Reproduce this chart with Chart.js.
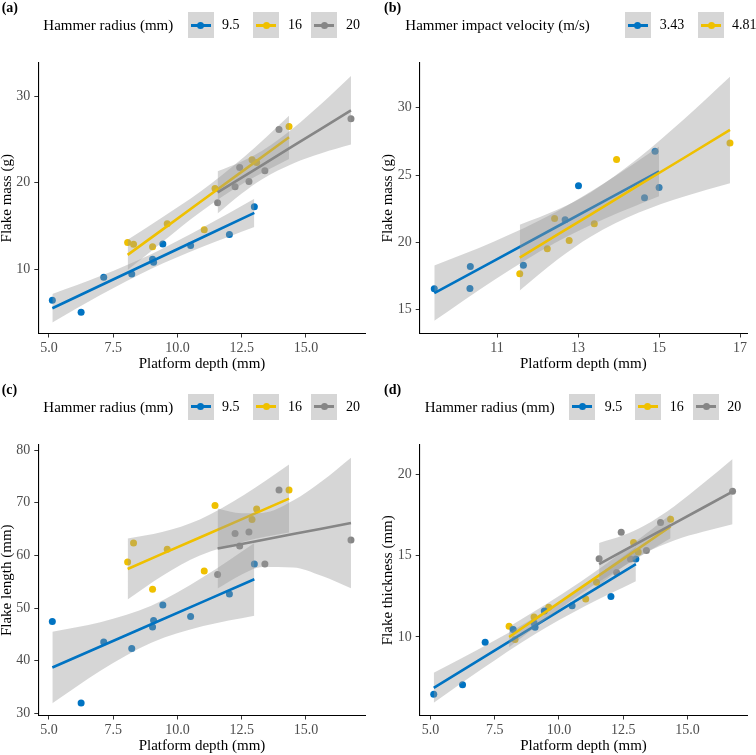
<!DOCTYPE html>
<html>
<head>
<meta charset="utf-8">
<script src="https://cdn.jsdelivr.net/npm/chart.js@4"></script>
<style>
body{margin:0;width:756px;height:755px;overflow:hidden;background:#fff;font-family:"Liberation Serif","Times New Roman",serif;color:#000;}
.panel{position:absolute;width:378px;height:374px;}
.panel canvas{position:absolute;left:0;top:0;}
.tag{position:absolute;top:0;font-weight:bold;font-size:14px;line-height:16px;}
.leg{position:absolute;top:12.3px;height:26px;line-height:26px;white-space:nowrap;}
.leg.title{font-size:15px;}
.leg.lab{font-size:14px;}
.key{position:absolute;top:12.3px;width:26px;height:26px;background:#d6d6d6;}
.key i{position:absolute;left:3px;right:3px;top:11.7px;height:2.6px;}
.key b{position:absolute;left:9.5px;top:9.5px;width:7px;height:7px;border-radius:50%;}
</style>
</head>
<body>
<div class="panel" id="pa" style="left:0;top:0"><canvas id="ca" width="378" height="374"></canvas></div>
<div class="panel" id="pb" style="left:378px;top:0"><canvas id="cb" width="378" height="374"></canvas></div>
<div class="panel" id="pc" style="left:0;top:381.5px"><canvas id="cc" width="378" height="374"></canvas></div>
<div class="panel" id="pd" style="left:378px;top:381.5px"><canvas id="cd" width="378" height="374"></canvas></div>
<script>
// legend labels
const radiusLabels = ["9.5", "16", "20"];
const velocityLabels = ["3.43", "4.81"];

// platform depth (mm) by hammer radius
const depth95 = [5.13, 6.25, 7.13, 8.22, 9.03, 9.07, 9.43, 10.51, 12.02, 12.99];
const depth16 = [8.06, 8.29, 9.03, 9.60, 11.04, 11.46, 12.90, 13.08, 14.34];
const depth20 = [11.56, 12.24, 12.42, 12.78, 13.40, 13.95, 16.75];

// (a) flake mass (g)
const mass95 = [6.46, 5.07, 9.11, 9.49, 11.19, 10.84, 12.95, 12.77, 14.04, 17.22];
const mass16 = [13.12, 12.92, 12.61, 15.26, 14.57, 19.35, 22.65, 22.35, 26.5];
const mass20 = [17.68, 19.53, 21.77, 20.15, 21.38, 26.15, 27.38];

// (b) hammer impact velocity 3.43 m/s (4.81 m/s = the 20 mm flakes)
const depth343 = [9.45, 10.34, 10.33, 11.65, 12.68, 13.01, 14.64, 14.90, 15.00];
const mass343 = [16.56, 18.22, 16.58, 18.31, 21.68, 24.20, 23.31, 26.76, 24.08];

// (c) flake length (mm)
const length95 = [47.45, 32.01, 43.58, 42.33, 46.43, 47.64, 50.6, 48.4, 52.69, 58.38];
const length16 = [58.76, 62.36, 53.58, 61.16, 57.05, 69.45, 66.8, 68.81, 72.41];
const length20 = [56.37, 64.14, 61.79, 64.45, 58.38, 72.41, 62.93];

// (d) flake thickness (mm)
const thick95 = [6.49, 7.07, 9.68, 10.46, 10.85, 10.59, 11.6, 11.91, 12.49, 14.78];
const thick16 = [10.65, 9.84, 11.22, 11.82, 12.33, 13.35, 15.8, 15.22, 17.23];
const thick20 = [14.8, 13.96, 16.43, 14.78, 15.3, 17.02, 18.94];

// fitted lines and 95% bands, read at these depths
const fitX95 = [5.13, 7.0, 8.98, 11.0, 12.99];
const fitX16 = [8.06, 9.4, 10.87, 12.6, 14.34];
const fitX20 = [11.56, 12.5, 13.31, 14.5, 15.6, 16.75];
const fitX343 = [9.45, 10.9, 12.44, 13.7, 15.0];

const massFit95 = [5.53, 8.15, 10.92, 13.75, 16.53];
const massLo95 = [3.88, 7.05, 10.08, 12.64, 14.91];
const massHi95 = [7.18, 9.25, 11.76, 14.86, 18.15];
const massFit16 = [11.68, 14.57, 17.75, 21.49, 25.24];
const massLo16 = [9.93, 13.15, 16.58, 19.99, 22.74];
const massHi16 = [13.43, 15.99, 18.92, 22.99, 27.74];
const massFit20 = [18.88, 20.6, 22.07, 24.25, 26.25, 28.35];
const massLo20 = [16.44, 18.75, 20.43, 22.22, 23.4, 24.4];
const massHi20 = [21.32, 22.45, 23.71, 26.28, 29.1, 32.3];
const massFit343 = [16.24, 18.6, 21.11, 23.16, 25.28];
const massLo343 = [14.19, 17.16, 19.97, 21.81, 23.43];
const massHi343 = [18.29, 20.04, 22.25, 24.51, 27.13];

const lengthFit95 = [38.73, 42.71, 46.93, 51.23, 55.47];
const lengthLo95 = [31.93, 38.11, 43.43, 46.58, 48.57];
const lengthHi95 = [45.53, 47.31, 50.43, 55.88, 62.37];
const lengthFit16 = [57.43, 60.28, 63.4, 67.08, 70.78];
const lengthLo16 = [51.63, 56.11, 59.97, 62.66, 64.33];
const lengthHi16 = [63.23, 64.45, 66.83, 71.5, 77.23];
const lengthFit20 = [61.3, 62.18, 62.93, 64.05, 65.07, 66.15];
const lengthLo20 = [53.7, 56.36, 57.79, 57.69, 56.12, 53.75];
const lengthHi20 = [68.9, 68.0, 68.07, 70.41, 74.02, 78.55];

const thickFit95 = [6.88, 8.69, 10.6, 12.55, 14.47];
const thickLo95 = [5.96, 8.03, 10.09, 11.88, 13.42];
const thickHi95 = [7.8, 9.35, 11.11, 13.22, 15.52];
const thickFit16 = [10.0, 11.45, 13.04, 14.9, 16.78];
const thickLo16 = [9.37, 10.98, 12.66, 14.41, 16.05];
const thickHi16 = [10.63, 11.92, 13.42, 15.39, 17.51];
const thickFit20 = [14.47, 15.28, 15.97, 16.99, 17.93, 18.92];
const thickLo20 = [13.17, 14.32, 15.12, 15.94, 16.45, 16.92];
const thickHi20 = [15.77, 16.24, 16.82, 18.04, 19.41, 20.92];

// tick labels
const depthTicks = [5.0, 7.5, 10.0, 12.5, 15.0];
const depthTicksB = [11, 13, 15, 17];
const massTicks = [10, 20, 30];
const massTicksB = [15, 20, 25, 30];
const lengthTicks = [30, 40, 50, 60, 70, 80];
const thickTicks = [10, 15, 20];

const blue = "#0073C2", yellow = "#EFC000", grey = "#868686";
const ribbonFill = "rgba(153,153,153,0.4)";
const serif = "'Liberation Serif', 'Times New Roman', serif";

const pts = (xs, ys) => xs.map((x, i) => ({x: x, y: ys[i]}));

function buildSets(groups) {
    const sets = [];
    groups.forEach((g, i) => {
        sets.push({data: pts(g.x, g.y), backgroundColor: g.color, borderWidth: 0, pointRadius: 3.5, order: 100});
        sets.push({data: pts(g.fx, g.lo), showLine: true, borderColor: "rgba(0,0,0,0)", borderWidth: 0,
            pointRadius: 0, cubicInterpolationMode: "monotone", fill: false, order: 50 - 3 * i});
        sets.push({data: pts(g.fx, g.hi), showLine: true, borderColor: "rgba(0,0,0,0)", borderWidth: 0,
            pointRadius: 0, cubicInterpolationMode: "monotone", fill: "-1", backgroundColor: ribbonFill, order: 50 - 3 * i});
        sets.push({data: pts(g.fx, g.fit), showLine: true, borderColor: g.color, borderWidth: 2.6,
            pointRadius: 0, order: 49 - 3 * i});
    });
    return sets;
}

function makeChart(id, p) {
    new Chart(document.getElementById(id), {
        type: "scatter",
        data: {datasets: buildSets(p.groups)},
        options: {
            responsive: false,
            animation: false,
            devicePixelRatio: 1,
            layout: {padding: {top: 63, right: p.right, bottom: 0, left: 0}},
            plugins: {legend: {display: false}, tooltip: {enabled: false}},
            scales: {
                x: {
                    type: "linear", min: p.xMin, max: p.xMax,
                    afterBuildTicks: s => { s.ticks = p.xTicks.map(v => ({value: v})); },
                    afterFit: s => { s.height = 374 - 333.5; },
                    border: {display: true, color: "#000", width: 1.1},
                    grid: {drawOnChartArea: false, drawTicks: true, tickLength: 4, color: "#333"},
                    ticks: {autoSkip: false, maxRotation: 0, padding: 2, color: "#4d4d4d",
                        font: {family: serif, size: 14}, callback: v => p.xFmt(v)},
                    title: {display: true, text: "Platform depth (mm)", color: "#000",
                        font: {family: serif, size: 15, lineHeight: 1}, padding: {top: 0, bottom: 2.5}}
                },
                y: {
                    type: "linear", min: p.yMin, max: p.yMax,
                    afterBuildTicks: s => { s.ticks = p.yTicks.map(v => ({value: v})); },
                    afterFit: s => { s.width = p.yWidth; },
                    border: {display: true, color: "#000", width: 1.1},
                    grid: {drawOnChartArea: false, drawTicks: true, tickLength: 4, color: "#333"},
                    ticks: {autoSkip: false, padding: 4, color: "#4d4d4d",
                        font: {family: serif, size: 14}, callback: v => String(v)},
                    title: {display: true, text: p.yTitle, color: "#000",
                        font: {family: serif, size: 15, lineHeight: 1}, padding: {top: p.yTitlePad, bottom: 0}}
                }
            }
        }
    });
}

function makeLegend(panelId, tag, tagLeft, title, titleLeft, labels, colors, keyLefts, labLefts) {
    const el = document.getElementById(panelId);
    let html = `<div class="tag" style="left:${tagLeft}px">${tag}</div>`;
    html += `<div class="leg title" style="left:${titleLeft}px">${title}</div>`;
    labels.forEach((lab, i) => {
        html += `<div class="key" style="left:${keyLefts[i]}px"><i style="background:${colors[i]}"></i><b style="background:${colors[i]}"></b></div>`;
        html += `<div class="leg lab" style="left:${labLefts[i]}px">${lab}</div>`;
    });
    el.insertAdjacentHTML("beforeend", html);
}

const fmt1 = v => v.toFixed(1);
const fmt0 = v => String(v);

makeChart("ca", {
    xMin: 4.584, xMax: 17.323, yMin: 2.616, yMax: 33.81, xTicks: depthTicks, yTicks: massTicks,
    xFmt: fmt1, yTitle: "Flake mass (g)", yWidth: 38.3, yTitlePad: -0.5, right: 12.3,
    groups: [
        {x: depth95, y: mass95, fx: fitX95, fit: massFit95, lo: massLo95, hi: massHi95, color: blue},
        {x: depth16, y: mass16, fx: fitX16, fit: massFit16, lo: massLo16, hi: massHi16, color: yellow},
        {x: depth20, y: mass20, fx: fitX20, fit: massFit20, lo: massLo20, hi: massHi20, color: grey}
    ]
});
makeChart("cb", {
    xMin: 9.09, xMax: 17.17, yMin: 13.24, yMax: 33.32, xTicks: depthTicksB, yTicks: massTicksB,
    xFmt: fmt0, yTitle: "Flake mass (g)", yWidth: 41.7, yTitlePad: 2.5, right: 9,
    groups: [
        {x: depth343, y: mass343, fx: fitX343, fit: massFit343, lo: massLo343, hi: massHi343, color: blue},
        {x: depth20, y: mass20, fx: fitX20, fit: massFit20, lo: massLo20, hi: massHi20, color: yellow}
    ]
});
makeChart("cc", {
    xMin: 4.584, xMax: 17.323, yMin: 29.62, yMax: 80.95, xTicks: depthTicks, yTicks: lengthTicks,
    xFmt: fmt1, yTitle: "Flake length (mm)", yWidth: 38.3, yTitlePad: -0.5, right: 12.3,
    groups: [
        {x: depth95, y: length95, fx: fitX95, fit: lengthFit95, lo: lengthLo95, hi: lengthHi95, color: blue},
        {x: depth16, y: length16, fx: fitX16, fit: lengthFit16, lo: lengthLo16, hi: lengthHi16, color: yellow},
        {x: depth20, y: length20, fx: fitX20, fit: lengthFit20, lo: lengthLo20, hi: lengthHi20, color: grey}
    ]
});
makeChart("cd", {
    xMin: 4.584, xMax: 17.323, yMin: 5.18, yMax: 21.78, xTicks: depthTicks, yTicks: thickTicks,
    xFmt: fmt1, yTitle: "Flake thickness (mm)", yWidth: 41.7, yTitlePad: 3, right: 8.7,
    groups: [
        {x: depth95, y: thick95, fx: fitX95, fit: thickFit95, lo: thickLo95, hi: thickHi95, color: blue},
        {x: depth16, y: thick16, fx: fitX16, fit: thickFit16, lo: thickLo16, hi: thickHi16, color: yellow},
        {x: depth20, y: thick20, fx: fitX20, fit: thickFit20, lo: thickLo20, hi: thickHi20, color: grey}
    ]
});

const cols3 = [blue, yellow, grey];
makeLegend("pa", "(a)", 1.7, "Hammer radius (mm)", 43.3, radiusLabels, cols3, [187.7, 253.3, 311], [222, 288, 346]);
makeLegend("pb", "(b)", 6, "Hammer impact velocity (m/s)", 27.3, velocityLabels, [blue, yellow], [246.7, 320], [281.7, 354]);
makeLegend("pc", "(c)", 1.7, "Hammer radius (mm)", 43.3, radiusLabels, cols3, [187.7, 253.3, 311], [222, 288, 346]);
makeLegend("pd", "(d)", 6, "Hammer radius (mm)", 46.7, radiusLabels, cols3, [191, 256.7, 315], [226.7, 291.7, 349.3]);
</script>
</body>
</html>
